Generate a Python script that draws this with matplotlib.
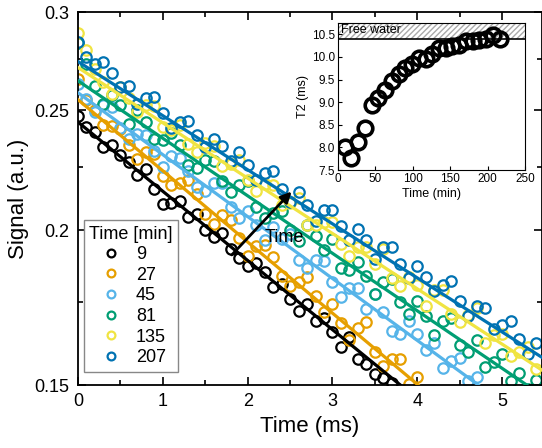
import numpy as np
import matplotlib.pyplot as plt
from matplotlib.ticker import FixedLocator, FixedFormatter, NullFormatter

plt.rcParams['font.family'] = ['Liberation Sans', 'DejaVu Sans']

# echo decay data, sampled every 0.1 ms
t = np.round(np.arange(0, 5.5, 0.1), 1)

labels = ['9', '27', '45', '81', '135', '207']
colors = ['#000000', '#E69F00', '#56B4E9', '#009E73', '#F0E442', '#0072B2']

s9 = [.2475, .2425, .2400, .2335, .2345, .2300, .2270, .2215, .2240, .2160, .2100, .2105, .2110,
      .2050, .2060, .2000, .1975, .1990, .1930, .1900, .1870, .1880, .1850, .1800, .1810, .1760,
      .1720, .1745, .1690, .1700, .1655, .1610, .1640, .1575, .1560, .1530, .1520, .1505]
s27 = [.2649, .2546, .2502, .2430, .2428, .2416, .2345, .2284, .2313, .2303, .2213, .2174, .2185,
       .2197, .2139, .2061, .2024, .2056, .2040, .1973, .1907, .1942, .1946, .1902, .1837, .1802,
       .1818, .1835, .1771, .1718, .1745, .1683, .1630, .1668, .1687, .1595, .1554, .1573, .1573,
       .1502, .1522]
s45 = [.2622, .2553, .2493, .2524, .2516, .2418, .2370, .2392, .2385, .2318, .2251, .2295, .2289,
       .2233, .2168, .2153, .2184, .2183, .2089, .2045, .2071, .2019, .1965, .2012, .1969, .1987,
       .1893, .1863, .1891, .1890, .1817, .1768, .1797, .1797, .1726, .1777, .1717, .1657, .1648,
       .1691, .1650, .1600, .1623, .1547, .1567, .1578, .1511, .1523]
s81 = [.2830, .2723, .2614, .2527, .2570, .2523, .2437, .2501, .2445, .2369, .2363, .2398, .2343,
       .2258, .2244, .2279, .2275, .2192, .2148, .2175, .2192, .2088, .2047, .2066, .2073, .2001,
       .1960, .2019, .1978, .1927, .1966, .1866, .1856, .1886, .1837, .1777, .1818, .1828, .1750,
       .1711, .1752, .1705, .1646, .1688, .1700, .1616, .1596, .1630, .1552, .1566, .1588, .1512,
       .1535, .1488, .1513]
s135 = [.2886, .2798, .2701, .2634, .2577, .2611, .2555, .2489, .2523, .2518, .2422, .2408, .2433,
        .2348, .2314, .2350, .2337, .2253, .2260, .2277, .2194, .2152, .2179, .2177, .2095, .2103,
        .2122, .2021, .2020, .2029, .2029, .1949, .1908, .1939, .1939, .1879, .1930, .1831, .1802,
        .1833, .1805, .1737, .1788, .1790, .1713, .1685, .1708, .1730, .1623, .1646, .1649, .1583,
        .1596, .1610, .1544]
s207 = [.2836, .2759, .2722, .2735, .2678, .2612, .2616, .2530, .2555, .2560, .2485, .2420, .2446,
        .2452, .2388, .2334, .2371, .2338, .2275, .2312, .2259, .2197, .2224, .2232, .2161, .2109,
        .2148, .2097, .2036, .2075, .2075, .2015, .1965, .2005, .1965, .1896, .1937, .1938, .1879,
        .1830, .1872, .1834, .1786, .1808, .1820, .1753, .1705, .1738, .1731, .1664, .1677, .1691,
        .1634, .1588, .1622]
signals = [s9, s27, s45, s81, s135, s207]

# fitted mono-exponential lines: (t start, s start, t end, s end)
fits = [(0, .2445, 3.80, .150),
        (0, .2549, 4.01, .150),
        (0, .2582, 4.72, .150),
        (0, .2640, 5.29, .150),
        (0, .2706, 5.47, .1542),
        (0, .2736, 5.47, .1579)]

# inset: T2 vs hydration time
tmin = [9, 18, 27, 36, 45, 54, 63, 72, 81, 90, 99, 108, 117, 126, 135, 144, 153, 162, 171, 180,
        189, 198, 207, 216]
T2 = [8.00, 7.77, 8.11, 8.43, 8.93, 9.09, 9.27, 9.46, 9.63, 9.76, 9.85, 9.98, 9.96, 10.07, 10.20,
      10.20, 10.24, 10.27, 10.35, 10.35, 10.37, 10.40, 10.48, 10.40]
free_water = 10.4

fig = plt.figure(figsize=(5.42, 4.48), dpi=100)
ax = fig.add_axes([0.1439, 0.1406, 0.8561, 0.8326])

handles = []
for s, c, lab in zip(signals, colors, labels):
    h, = ax.plot(t[:len(s)], s, 'o', mfc='none', mec=c, ms=7.5, mew=1.6, label=lab, zorder=2)
    handles.append(h)
for f, c in zip(fits, colors):
    ax.plot([f[0], f[2]], [f[1], f[3]], '-', color=c, lw=2.3, zorder=3)

ax.set_yscale('log')
ax.set_xlim(0, 5.47)
ax.set_ylim(0.15, 0.3)
ax.yaxis.set_major_locator(FixedLocator([0.15, 0.2, 0.25, 0.3]))
ax.yaxis.set_major_formatter(FixedFormatter(['0.15', '0.2', '0.25', '0.3']))
ax.yaxis.set_minor_locator(FixedLocator([0.175, 0.225, 0.275]))
ax.yaxis.set_minor_formatter(NullFormatter())
ax.set_xticks([0, 1, 2, 3, 4, 5])
ax.set_xticks([0.5, 1.5, 2.5, 3.5, 4.5], minor=True)
ax.tick_params(which='both', direction='in', top=True, right=True, labelsize=13, width=1.2)
ax.tick_params(which='major', length=6, pad=6)
ax.tick_params(which='minor', length=3.5)
for sp in ax.spines.values():
    sp.set_linewidth(1.3)
ax.set_xlabel('Time (ms)', fontsize=16)
ax.set_ylabel('Signal (a.u.)', fontsize=16)

leg = ax.legend(handles=handles, title='Time [min]', loc='upper left', bbox_to_anchor=(0.013, 0.442),
                borderaxespad=0, fontsize=13, title_fontsize=13, fancybox=False, edgecolor='#888888',
                framealpha=1, handletextpad=0.6, labelspacing=0.2, borderpad=0.3, handlelength=1.6,
                markerscale=0.75)
leg.get_frame().set_linewidth(1.0)

ax.annotate('', xy=(2.54, 0.2157), xytext=(1.79, 0.1903),
            arrowprops=dict(arrowstyle='-|>', lw=2, color='k', mutation_scale=16), zorder=5)
ax.text(2.2, 0.1972, 'Time', fontsize=13, va='center', ha='left', zorder=5)

# inset
ins = fig.add_axes([0.6236, 0.6205, 0.345, 0.328])
ins.fill_between([0, 250], free_water, 10.75, facecolor='white', edgecolor='#aaaaaa',
                 hatch='//////', lw=0)
ins.axhline(free_water, color='k', lw=1.2)
ins.plot(tmin, T2, 'o', mfc='none', mec='k', ms=10.5, mew=2.6)
ins.text(4, 10.6, 'Free water', fontsize=9, va='center', ha='left')
ins.set_xlim(0, 250)
ins.set_ylim(7.5, 10.75)
ins.set_xticks([0, 50, 100, 150, 200, 250])
ins.set_yticks([7.5, 8.0, 8.5, 9.0, 9.5, 10.0, 10.5])
ins.tick_params(direction='in', labelsize=8.5, length=3, pad=2)
ins.set_xlabel('Time (min)', fontsize=9, labelpad=2)
ins.set_ylabel('T2 (ms)', fontsize=9, labelpad=2)

fig.savefig('out.png', dpi=100)
